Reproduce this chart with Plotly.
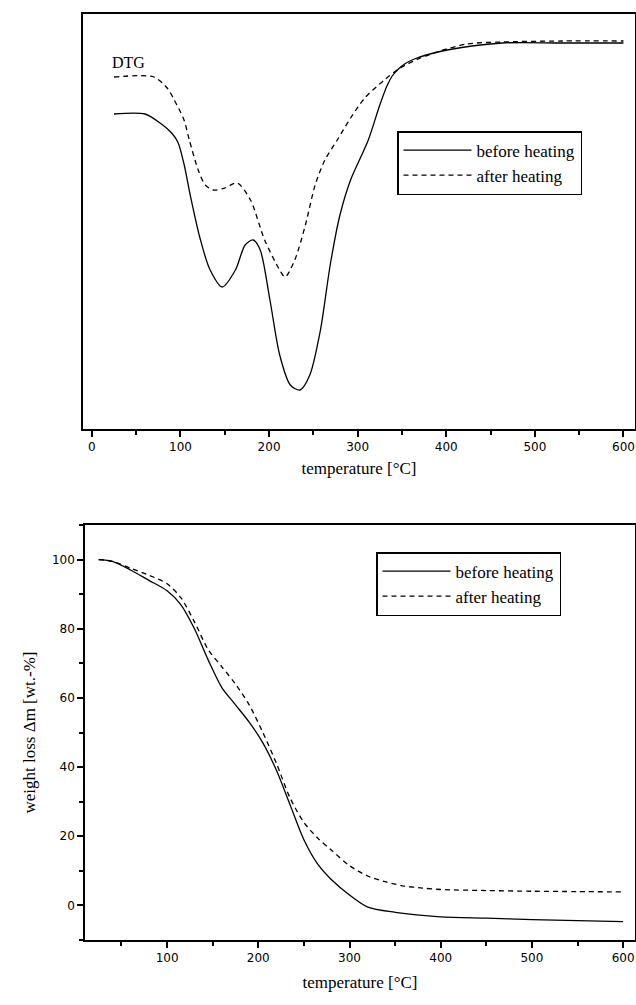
import plotly.graph_objects as go

# ---------------- DTG (top panel, arbitrary units) ----------------
dtg_before_T = [25, 60, 77, 89, 97, 104, 111, 122, 133, 147, 162, 173, 182, 190, 201, 212, 224, 235,
                246, 258, 269, 280, 292, 303, 312, 325, 333, 339, 346, 353, 364, 401, 463, 530, 600]
dtg_before = [315, 315, 306, 297, 287, 265, 234, 191, 160, 142, 159, 184, 189, 179, 129, 74, 44, 39,
              54, 99, 164, 214, 249, 271, 289, 324, 343, 353, 360, 365, 370, 379, 386, 386, 386]

dtg_after_T = [25, 70, 85, 93, 104, 110, 120, 128, 137, 150, 164, 179, 195, 212, 218, 229,
               241, 252, 263, 277, 292, 308, 330, 348, 371, 393, 423, 463, 530, 600]
dtg_after = [352, 352, 341, 329, 309, 289, 259, 244, 239, 241, 246, 229, 189, 159, 152, 169,
             204, 244, 269, 289, 311, 331, 349, 361, 371, 378, 385, 387, 388, 388]

# ---------------- TG weight loss (bottom panel, wt.-%) ----------------
tg_before_T = [25, 40, 60, 80, 100, 115, 130, 145, 160, 175, 190, 205, 220, 235, 250, 265,
               280, 300, 320, 350, 400, 450, 500, 550, 600]
tg_before = [100, 99.5, 97, 94, 91, 87, 80, 71, 63, 58, 53, 47, 39, 29, 19, 12,
             7.5, 3, -0.5, -2, -3.3, -3.7, -4.1, -4.4, -4.7]

tg_after_T = [25, 40, 60, 80, 100, 115, 130, 145, 160, 175, 190, 205, 220, 235, 250, 265,
              280, 300, 320, 340, 360, 380, 400, 450, 500, 550, 600]
tg_after = [100, 99.5, 97.5, 95.5, 93, 89, 82, 74, 69, 64, 58, 50, 41, 31, 24, 19.5,
            16, 11.5, 8.5, 6.8, 5.6, 5.0, 4.6, 4.3, 4.1, 4.0, 3.9]

x_ticks = [0, 100, 200, 300, 400, 500, 600]
y_ticks = [0, 20, 40, 60, 80, 100]
series_names = ["before heating", "after heating"]

W, H = 636, 1005
SERIF = "Liberation Serif, Times New Roman, serif"
SANS = "DejaVu Sans, Verdana, sans-serif"

fig = go.Figure()
solid = dict(color="black", width=1.3)
dashed = dict(color="black", width=1.3, dash="5px,4px")

fig.add_trace(go.Scatter(x=dtg_before_T, y=dtg_before, mode="lines", name=series_names[0],
                         line=dict(**solid, shape="spline", smoothing=0.8),
                         xaxis="x", yaxis="y", legend="legend"))
fig.add_trace(go.Scatter(x=dtg_after_T, y=dtg_after, mode="lines", name=series_names[1],
                         line=dict(**dashed, shape="spline", smoothing=0.8),
                         xaxis="x", yaxis="y", legend="legend"))
fig.add_trace(go.Scatter(x=tg_before_T, y=tg_before, mode="lines", name=series_names[0],
                         line=dict(**solid, shape="spline", smoothing=0.8),
                         xaxis="x2", yaxis="y2", legend="legend2"))
fig.add_trace(go.Scatter(x=tg_after_T, y=tg_after, mode="lines", name=series_names[1],
                         line=dict(**dashed, shape="spline", smoothing=0.8),
                         xaxis="x2", yaxis="y2", legend="legend2"))

axis_common = dict(showline=True, linecolor="black", linewidth=1.5, mirror=True,
                   showgrid=False, zeroline=False, ticks="outside", tickcolor="black",
                   tickwidth=1.5, ticklen=6,
                   tickfont=dict(family=SANS, size=12, color="black"))
minor = dict(ticks="outside", ticklen=4, tickwidth=1.5, tickcolor="black", showgrid=False)
title_font = dict(family=SERIF, size=17, color="black")
legend_common = dict(xanchor="left", yanchor="top", bordercolor="black", borderwidth=1.5,
                     bgcolor="white", font=dict(family=SERIF, size=17, color="black"),
                     tracegroupgap=0, itemwidth=68)

fig.update_layout(
    width=W, height=H,
    margin=dict(l=0, r=0, t=0, b=0),
    paper_bgcolor="white", plot_bgcolor="white",
    showlegend=True,
    xaxis=dict(**axis_common, domain=[83 / W, 635 / W], anchor="y",
               range=[-10, 613], tickvals=x_ticks, minor=dict(**minor, dtick=50, tick0=0),
               title=dict(text="temperature [°C]", standoff=9, font=title_font)),
    yaxis=dict(showline=True, linecolor="black", linewidth=1.5, mirror=True,
               showgrid=False, zeroline=False, showticklabels=False, ticks="",
               domain=[1 - 429 / H, 1 - 14 / H], anchor="x", range=[0, 415]),
    xaxis2=dict(**axis_common, domain=[85 / W, 635 / W], anchor="y2",
                range=[10, 613], tickvals=x_ticks[1:], minor=dict(**minor, dtick=50, tick0=0),
                title=dict(text="temperature [°C]", standoff=12, font=title_font)),
    yaxis2=dict(**axis_common, domain=[1 - 940 / H, 1 - 525 / H], anchor="x2",
                range=[-10, 110], tickvals=y_ticks, minor=dict(**minor, dtick=10, tick0=0),
                title=dict(text="weight loss Δm [wt.-%]", standoff=12, font=title_font)),
    legend=dict(**legend_common, x=397 / W, y=1 - 131 / H),
    legend2=dict(**legend_common, x=376 / W, y=1 - 552 / H),
    annotations=[dict(text="DTG", x=110 / W, y=1 - 63 / H, xref="paper", yref="paper",
                      xanchor="left", yanchor="middle", showarrow=False,
                      font=dict(family=SERIF, size=16, color="black"))],
)

fig.write_html("out.html")
